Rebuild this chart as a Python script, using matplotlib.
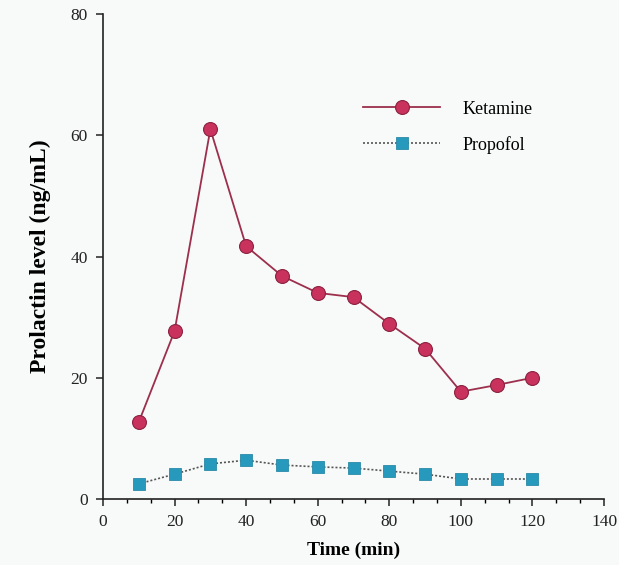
import matplotlib
matplotlib.use("Agg")
import matplotlib.pyplot as plt
from matplotlib.ticker import MultipleLocator

# time points (min)
time = [10, 20, 30, 40, 50, 60, 70, 80, 90, 100, 110, 120]
ketamine = [12.7, 27.7, 61.0, 41.7, 36.8, 34.0, 33.3, 28.9, 24.8, 17.7, 18.8, 20.0]
propofol = [2.5, 4.1, 5.8, 6.4, 5.6, 5.3, 5.1, 4.6, 4.1, 3.3, 3.3, 3.3]

plt.rcParams['font.family'] = ['Liberation Serif', 'DejaVu Serif']
bg = '#f8f9f9'

fig = plt.figure(figsize=(6.19, 5.65), dpi=100, facecolor=bg)
ax = fig.add_axes([0.1664, 0.1168, 0.8094, 0.8584], facecolor=bg)

ax.plot(time, ketamine, color='#9c2f4c', lw=1.3, marker='o', markersize=10,
        markerfacecolor='#c9325c', markeredgecolor='#8a2240', markeredgewidth=0.8,
        label='Ketamine')
ax.plot(time, propofol, color='#555555', lw=1.2, ls=(0, (1.2, 1.2)), marker='s',
        markersize=9, markerfacecolor='#2699bd', markeredgecolor='#2a8aa8',
        markeredgewidth=0.6, label='Propofol')

ax.set_xlim(0, 140)
ax.set_ylim(0, 80)
ax.xaxis.set_major_locator(MultipleLocator(20))
ax.xaxis.set_minor_locator(MultipleLocator(20 / 3))
ax.yaxis.set_major_locator(MultipleLocator(20))

for s in ['top', 'right']:
    ax.spines[s].set_visible(False)
for s in ['left', 'bottom']:
    ax.spines[s].set_linewidth(1.2)
    ax.spines[s].set_color('#222222')

ax.tick_params(axis='both', which='major', direction='out', length=5, width=1.1,
               labelsize=12.5, colors='#222222', pad=6)
ax.tick_params(axis='x', which='minor', direction='out', length=3, width=1.0)

ax.set_xlabel('Time (min)', fontsize=14, fontweight='bold', labelpad=8)
ax.set_ylabel('Prolactin level (ng/mL)', fontsize=17, fontweight='bold', labelpad=14)

ax.legend(loc='upper left', bbox_to_anchor=(0.486, 0.855), frameon=False,
          handlelength=4.3, handletextpad=1.2, labelspacing=1.0, fontsize=13)

fig.savefig('out.png', dpi=100, facecolor=bg)
